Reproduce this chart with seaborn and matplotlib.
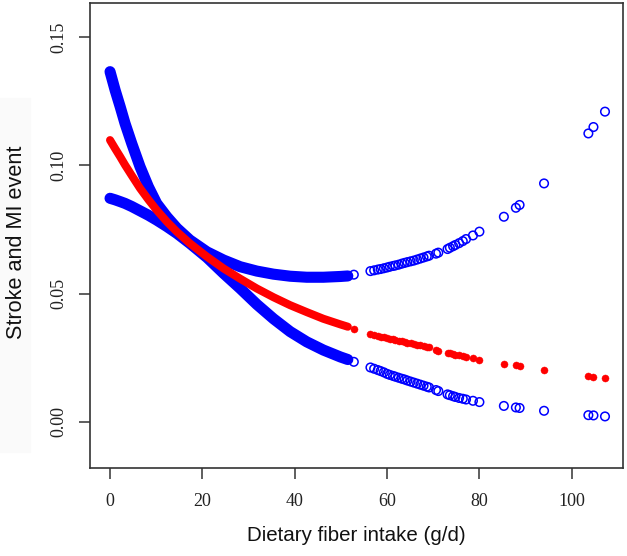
import matplotlib
matplotlib.use("Agg")
import matplotlib.pyplot as plt
from matplotlib.patches import Rectangle
import pandas as pd
import seaborn as sns

# ---- data ----
# densely sampled part (observations overlap into a continuous band)
x_dense = [0, 1.1, 2.2, 3.25, 4.7, 6.5, 8.3, 10.1, 12.3, 14.5, 17.3, 21.0,
           24.6, 28.2, 31.8, 35.4, 39.0, 42.6, 46.2, 49.9, 51.5]
upper_dense = [0.1366, 0.1294, 0.1229, 0.1164, 0.1086, 0.0995, 0.0917, 0.0852,
               0.0800, 0.0755, 0.0709, 0.0663, 0.0631, 0.0605, 0.0588, 0.0576,
               0.0568, 0.0564, 0.0564, 0.0567, 0.0569]
fit_dense = [0.1099, 0.1066, 0.1034, 0.1002, 0.0961, 0.0911, 0.0867, 0.0826,
             0.0781, 0.0741, 0.0696, 0.0644, 0.0598, 0.0558, 0.0520, 0.0486,
             0.0455, 0.0428, 0.0402, 0.0380, 0.0371]
lower_dense = [0.0872, 0.0866, 0.0859, 0.0852, 0.0840, 0.0823, 0.0806, 0.0787,
               0.0762, 0.0735, 0.0696, 0.0641, 0.0579, 0.0520, 0.0458, 0.0402,
               0.0352, 0.0312, 0.0280, 0.0253, 0.0243]

# sparse observations (individual markers visible)
x_obs = [52.8, 56.4, 57.2, 58.0, 58.6, 59.3, 60.0, 60.6, 61.3, 61.8, 62.5, 63.2,
         63.8, 64.4, 65.1, 65.8, 66.5, 67.2, 67.9, 68.6, 69.1, 70.6, 71.1, 73.1,
         73.6, 74.3, 74.8, 75.6, 76.4, 77.1, 78.6, 80.0, 85.3, 87.9, 88.7, 94.0,
         103.6, 104.7, 107.2]
upper_obs = [0.0574, 0.0588, 0.0591, 0.0594, 0.0596, 0.0599, 0.0602, 0.0605,
             0.0608, 0.0610, 0.0613, 0.0617, 0.0620, 0.0623, 0.0626, 0.0629,
             0.0633, 0.0637, 0.0641, 0.0645, 0.0648, 0.0656, 0.0660, 0.0674,
             0.0679, 0.0685, 0.0690, 0.0697, 0.0705, 0.0713, 0.0727, 0.0742,
             0.0800, 0.0835, 0.0846, 0.0930, 0.1125, 0.1150, 0.1210]
fit_obs = [0.0362, 0.0343, 0.0339, 0.0335, 0.0332, 0.0329, 0.0327, 0.0325,
           0.0322, 0.0320, 0.0317, 0.0314, 0.0312, 0.0309, 0.0306, 0.0304,
           0.0301, 0.0298, 0.0296, 0.0293, 0.0290, 0.0281, 0.0277, 0.0270,
           0.0267, 0.0264, 0.0262, 0.0259, 0.0256, 0.0254, 0.0249, 0.0243,
           0.0227, 0.0220, 0.0218, 0.0204, 0.0178, 0.0175, 0.0170]
lower_obs = [0.0234, 0.0212, 0.0207, 0.0202, 0.0198, 0.0193, 0.0187, 0.0183,
             0.0179, 0.0176, 0.0172, 0.0168, 0.0165, 0.0161, 0.0157, 0.0153,
             0.0149, 0.0145, 0.0141, 0.0137, 0.0134, 0.0124, 0.0120, 0.0107,
             0.0104, 0.0100, 0.0097, 0.0093, 0.0090, 0.0087, 0.0082, 0.0077,
             0.0062, 0.0056, 0.0054, 0.0043, 0.0026, 0.0025, 0.0021]

x_ticks = [0, 20, 40, 60, 80, 100]
x_ticklabels = ["0", "20", "40", "60", "80", "100"]
y_ticks = [0.00, 0.05, 0.10, 0.15]
y_ticklabels = ["0.00", "0.05", "0.10", "0.15"]
x_label = "Dietary fiber intake (g/d)"
y_label = "Stroke and MI event"

# ---- figure ----
plt.rcParams["font.family"] = ["Liberation Sans", "DejaVu Sans"]
fig = plt.figure(figsize=(6.27, 5.56), dpi=100)
fig.patches.append(Rectangle((0, 1 - 452 / 556), 30 / 627, (452 - 98) / 556,
                             transform=fig.transFigure, color="#fafafa",
                             zorder=-1))
ax = fig.add_axes([0.14354, 0.15881, 0.85008, 0.83633])

dense = pd.DataFrame({"x": x_dense, "upper": upper_dense,
                      "fit": fit_dense, "lower": lower_dense})
obs = pd.DataFrame({"x": x_obs, "upper": upper_obs,
                    "fit": fit_obs, "lower": lower_obs})

BLUE = "#0000FF"
RED = "#FF0000"

sns.lineplot(data=dense, x="x", y="upper", ax=ax, color=BLUE, linewidth=8.0,
             sort=False, estimator=None, solid_capstyle="round")
sns.lineplot(data=dense, x="x", y="lower", ax=ax, color=BLUE, linewidth=8.0,
             sort=False, estimator=None, solid_capstyle="round")
sns.lineplot(data=dense, x="x", y="fit", ax=ax, color=RED, linewidth=5.8,
             sort=False, estimator=None, solid_capstyle="round")

for col in ["upper", "lower"]:
    sns.scatterplot(data=obs, x="x", y=col, ax=ax, marker="o", s=38,
                    facecolors="none", edgecolor=BLUE, linewidth=1.1)
sns.scatterplot(data=obs, x="x", y="fit", ax=ax, marker="o", s=26,
                color=RED, edgecolor=RED, linewidth=0.3)

ax.set_xlim(-4.34, 111.1)
ax.set_ylim(-0.0179, 0.1635)

ax.set_xticks(x_ticks)
ax.set_xticklabels(x_ticklabels, fontfamily="Liberation Serif", fontsize=13,
                   color="#222222")
ax.set_yticks(y_ticks)
ax.set_yticklabels(y_ticklabels, fontfamily="Liberation Serif", fontsize=13,
                   rotation=90, va="center", color="#222222")
ax.tick_params(axis="both", direction="out", length=8, width=1.1,
               color="#333333")
ax.tick_params(axis="x", pad=10)
ax.tick_params(axis="y", pad=8)

for sp in ax.spines.values():
    sp.set_visible(True)
    sp.set_color("#333333")
    sp.set_linewidth(1.2)

ax.set_xlabel(x_label, fontsize=14.8, color="#111111")
ax.xaxis.set_label_coords(0.5, -0.125)
ax.set_ylabel(y_label, fontsize=15.6, color="#111111", va="center")
ax.yaxis.set_label_coords((16.5 - 90) / 533, 0.485)

fig.savefig("out.png", dpi=100)
